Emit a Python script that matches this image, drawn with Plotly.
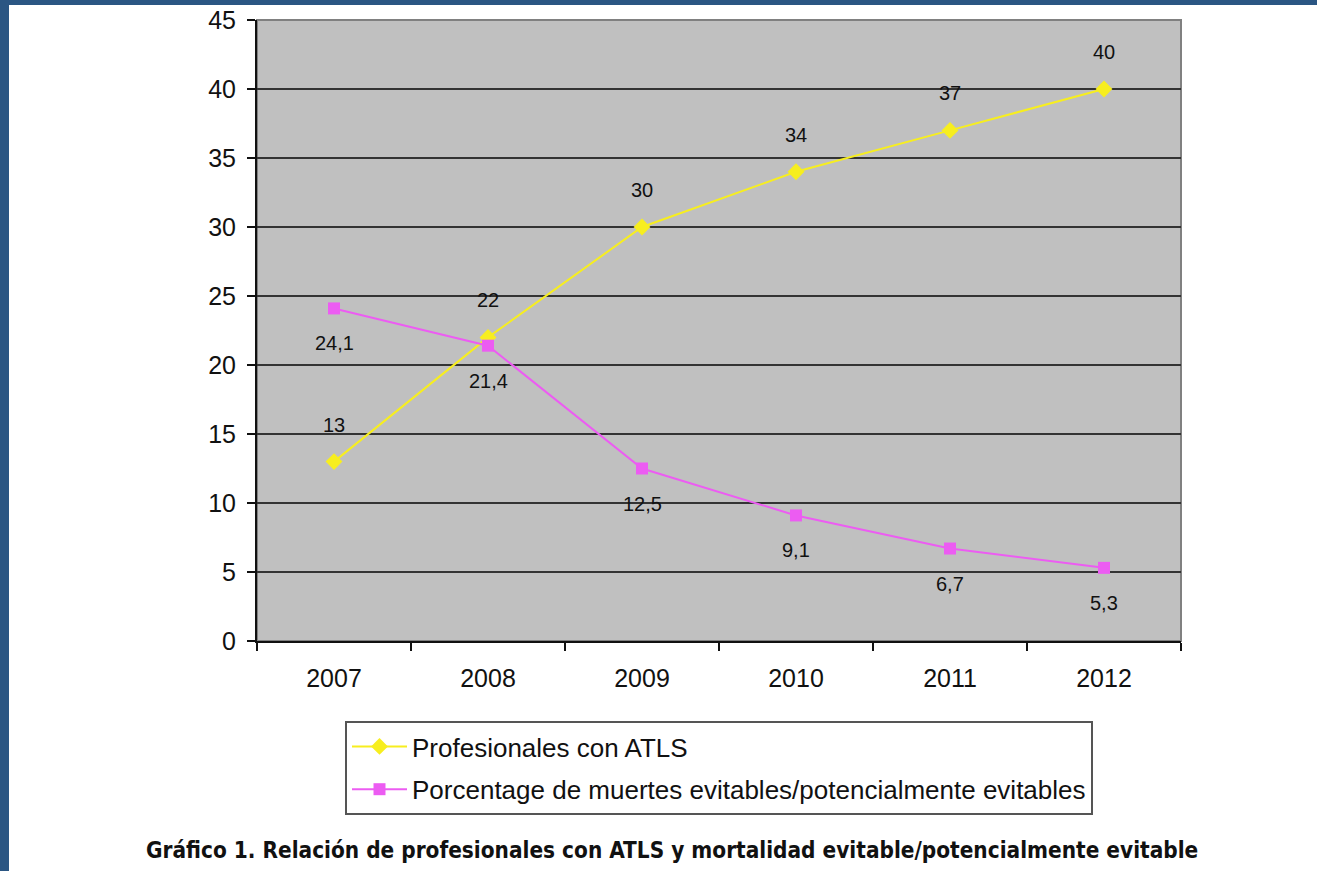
import plotly.graph_objects as go

# Data
years = ["2007", "2008", "2009", "2010", "2011", "2012"]
profesionales = [13, 22, 30, 34, 37, 40]
porcentaje = [24.1, 21.4, 12.5, 9.1, 6.7, 5.3]
y_ticks = [0, 5, 10, 15, 20, 25, 30, 35, 40, 45]

name_prof = "Profesionales con ATLS"
name_pct = "Porcentage de muertes evitables/potencialmente evitables"
caption = "Gráfico 1. Relación de profesionales con ATLS y mortalidad evitable/potencialmente evitable"

W, H = 1317, 871
L, R, T, B = 257, 136, 20, 230
pw, ph = W - L - R, H - T - B

YELLOW = "#f7ee1f"
MAGENTA = "#ec5cf2"
BLUE = "#2b5683"
FONT = "Liberation Sans, Arial, sans-serif"

fig = go.Figure()
fig.add_trace(go.Scatter(
    x=years, y=profesionales, name=name_prof, mode="lines+markers",
    line=dict(color=YELLOW, width=2),
    marker=dict(symbol="diamond", size=13, color=YELLOW),
    legendgroup="a",
))
fig.add_trace(go.Scatter(
    x=years, y=porcentaje, name=name_pct, mode="lines+markers",
    line=dict(color=MAGENTA, width=2),
    marker=dict(symbol="square", size=12, color=MAGENTA),
    legendgroup="b",
))


def fmt(v):
    return f"{v:g}".replace(".", ",")


# value labels: above the yellow points, below the magenta ones
# (category axis annotations take the category index as x)
annotations = []
for i, v in enumerate(profesionales):
    annotations.append(dict(x=i, y=v, text=fmt(v), showarrow=False, yshift=37,
                            font=dict(size=20, color="#111", family=FONT)))
for i, v in enumerate(porcentaje):
    annotations.append(dict(x=i, y=v, text=fmt(v), showarrow=False, yshift=-35,
                            font=dict(size=20, color="#111", family=FONT)))

# caption below the legend
annotations.append(dict(
    xref="paper", yref="paper", x=(672 - L) / pw, y=(H - B - 850) / ph,
    text=f"<b>{caption}</b>", showarrow=False, xanchor="center", yanchor="middle",
    font=dict(size=22.4, color="#111", family="Liberation Sans Narrow, DejaVu Sans Condensed, Arial Narrow, sans-serif"),
))

shapes = [
    # plot area frame
    dict(type="rect", xref="paper", yref="paper", x0=0, x1=1, y0=0, y1=1,
         line=dict(color="#808080", width=2), layer="below"),
    # page border strips
    dict(type="rect", xref="paper", yref="paper",
         x0=-L / pw, x1=(9 - L) / pw, y0=-B / ph, y1=(H - B) / ph,
         fillcolor=BLUE, line=dict(width=0)),
    dict(type="rect", xref="paper", yref="paper",
         x0=-L / pw, x1=(W - L) / pw, y0=(H - B - 5) / ph, y1=(H - B) / ph,
         fillcolor=BLUE, line=dict(width=0)),
]

fig.update_layout(
    width=W, height=H,
    margin=dict(l=L, r=R, t=T, b=B, autoexpand=False),
    paper_bgcolor="white", plot_bgcolor="#c0c0c0",
    font=dict(family=FONT, size=25, color="#111"),
    showlegend=True,
    legend=dict(
        x=(345 - L) / pw, y=(H - B - 721) / ph, xanchor="left", yanchor="top",
        bordercolor="#555", borderwidth=2, bgcolor="white",
        font=dict(size=26, family=FONT, color="#111"),
        tracegroupgap=6, itemwidth=55, traceorder="grouped",
    ),
    annotations=annotations,
    shapes=shapes,
    xaxis=dict(
        type="category", range=[-0.5, 5.5], showgrid=False,
        showline=True, linecolor="#111", linewidth=2,
        ticks="outside", tickson="boundaries", ticklen=8, tickcolor="#111", tickwidth=2,
        ticklabelstandoff=14, tickfont=dict(size=25),
    ),
    yaxis=dict(
        range=[0, 45], tickvals=y_ticks, showgrid=True,
        gridcolor="#333333", gridwidth=2, zeroline=False,
        showline=True, linecolor="#111", linewidth=2,
        ticks="outside", ticklen=8, tickcolor="#111", tickwidth=2,
        ticklabelstandoff=6, tickfont=dict(size=25),
    ),
)

fig.write_html("out.html")
